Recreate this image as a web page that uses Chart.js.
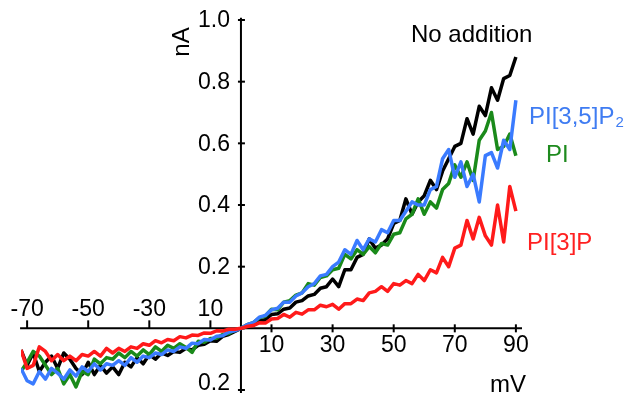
<!DOCTYPE html>
<html>
<head>
<meta charset="utf-8">
<script src="https://cdn.jsdelivr.net/npm/chart.js@4.4.0/dist/chart.umd.min.js"></script>
<style>
  html, body { margin: 0; padding: 0; background: #fff; }
  #wrap { width: 642px; height: 397px; }
</style>
</head>
<body>
<div id="wrap"><canvas id="myChart" width="642" height="397"></canvas></div>
<script>
// --- Data (mV, nA) ---
const voltages = [
  -72, -70, -68, -66, -64, -62, -60, -58, -56, -54,
  -52, -50, -48, -46, -44, -42, -40, -38, -36, -34,
  -32, -30, -28, -26, -24, -22, -20, -18, -16, -14,
  -12, -10, -8, -6, -4, -2,
  0, 2, 4, 6, 8, 10, 12, 14, 16, 18,
  20, 22, 24, 26, 28, 30, 32, 34, 36, 38,
  40, 42, 44, 46, 48, 50, 52, 54, 56, 58,
  60, 62, 64, 66, 68, 70, 72, 74, 76, 78,
  80, 82, 84, 86, 88, 90
];

const noAddition = [
  -0.07, -0.12, -0.08, -0.14, -0.11, -0.09, -0.13, -0.08, -0.10, -0.13,
  -0.15, -0.11, -0.15, -0.12, -0.145, -0.125, -0.15, -0.11, -0.125, -0.095,
  -0.115, -0.085, -0.10, -0.08, -0.088, -0.075, -0.078, -0.065, -0.07, -0.055,
  -0.052, -0.04, -0.042, -0.026, -0.02, -0.01,
  0, 0.008, 0.01, 0.024, 0.028, 0.045, 0.047, 0.062, 0.066, 0.085,
  0.09, 0.105, 0.11, 0.13, 0.135, 0.16, 0.135, 0.19, 0.19, 0.23,
  0.24, 0.29, 0.26, 0.27, 0.29, 0.34, 0.35, 0.42, 0.37, 0.41,
  0.43, 0.48, 0.45, 0.51, 0.55, 0.59, 0.60, 0.68, 0.63, 0.72,
  0.69, 0.78, 0.74, 0.81, 0.82, 0.88
];

const pi = [
  -0.14, -0.11, -0.075, -0.09, -0.12, -0.15, -0.13, -0.18, -0.15, -0.19,
  -0.14, -0.15, -0.10, -0.115, -0.095, -0.10, -0.08, -0.095, -0.075, -0.09,
  -0.07, -0.085, -0.06, -0.075, -0.055, -0.065, -0.05, -0.062, -0.078, -0.042,
  -0.045, -0.033, -0.032, -0.02, -0.017, -0.006,
  0, 0.012, 0.018, 0.034, 0.04, 0.062, 0.06, 0.085, 0.09, 0.108,
  0.115, 0.145, 0.14, 0.165, 0.17, 0.19, 0.195, 0.24, 0.225, 0.255,
  0.24, 0.265, 0.245, 0.275, 0.27, 0.305, 0.31, 0.355, 0.37, 0.42,
  0.37, 0.41, 0.39, 0.45, 0.47, 0.53, 0.49, 0.54, 0.48, 0.61,
  0.64, 0.70, 0.58, 0.59, 0.63, 0.56
];

const pi35p2 = [
  -0.13, -0.17, -0.18, -0.14, -0.165, -0.13, -0.145, -0.165, -0.135, -0.155,
  -0.125, -0.14, -0.115, -0.135, -0.115, -0.12, -0.105, -0.12, -0.095, -0.11,
  -0.09, -0.095, -0.08, -0.085, -0.07, -0.075, -0.06, -0.065, -0.048, -0.05,
  -0.036, -0.038, -0.026, -0.024, -0.012, -0.008,
  0, 0.012, 0.018, 0.036, 0.042, 0.06, 0.065, 0.085, 0.085, 0.105,
  0.115, 0.135, 0.145, 0.17, 0.175, 0.2, 0.215, 0.255, 0.24, 0.285,
  0.255, 0.29, 0.28, 0.32, 0.31, 0.35, 0.35, 0.38, 0.41, 0.40,
  0.40, 0.45, 0.46, 0.55, 0.58, 0.49, 0.54, 0.46, 0.50, 0.41,
  0.56, 0.57, 0.52, 0.61, 0.58, 0.74
];

const pi3p = [
  -0.07, -0.13, -0.12, -0.06, -0.075, -0.105, -0.085, -0.105, -0.09, -0.105,
  -0.085, -0.09, -0.075, -0.09, -0.065, -0.08, -0.065, -0.075, -0.06, -0.065,
  -0.05, -0.055, -0.04, -0.047, -0.036, -0.04, -0.027, -0.031, -0.022, -0.023,
  -0.015, -0.016, -0.008, -0.009, -0.003, -0.003,
  0, 0.006, 0.009, 0.018, 0.017, 0.03, 0.032, 0.045, 0.036, 0.052,
  0.046, 0.06, 0.06, 0.075, 0.07, 0.078, 0.062, 0.08, 0.08, 0.095,
  0.09, 0.115, 0.12, 0.135, 0.12, 0.145, 0.14, 0.155, 0.145, 0.175,
  0.155, 0.19, 0.18, 0.23, 0.2, 0.26, 0.27, 0.35, 0.29, 0.36,
  0.30, 0.27, 0.40, 0.28, 0.46, 0.38
];

// tick values and the labels shown for them
const xTicksNeg = [-70, -50, -30, -10];
const xTickLabelsNeg = ["-70", "-50", "-30", "10"];
const xTicksPos = [10, 30, 50, 70, 90];
const xTickLabelsPos = ["10", "30", "50", "70", "90"];
const yTicks = [1.0, 0.8, 0.6, 0.4, 0.2, 0, -0.2];
const yTickLabels = ["1.0", "0.8", "0.6", "0.4", "0.2", "", "0.2"];

const FONT = '"Liberation Sans", Arial, sans-serif';

function toPoints(values) {
  return voltages.map((v, i) => ({ x: v, y: values[i] }));
}

// --- Axes through the origin ---
const crossAxes = {
  id: "crossAxes",
  beforeDatasetsDraw(chart) {
    const { ctx, scales: { x, y } } = chart;
    const x0 = x.getPixelForValue(0);
    const y0 = y.getPixelForValue(0);
    ctx.save();
    ctx.strokeStyle = "#000";
    ctx.fillStyle = "#000";
    ctx.lineWidth = 2;

    // x axis line
    ctx.beginPath();
    ctx.moveTo(x.getPixelForValue(-72.3), y0);
    ctx.lineTo(x.getPixelForValue(92), y0);
    ctx.stroke();

    // y axis line
    ctx.beginPath();
    ctx.moveTo(x0, y.getPixelForValue(1.007));
    ctx.lineTo(x0, y.getPixelForValue(-0.21));
    ctx.stroke();

    ctx.font = "23px " + FONT;
    ctx.textAlign = "center";
    ctx.textBaseline = "middle";

    // negative side: ticks and labels above the axis
    xTicksNeg.forEach((t, i) => {
      const px = x.getPixelForValue(t);
      ctx.beginPath();
      ctx.moveTo(px, y0);
      ctx.lineTo(px, y0 - 8);
      ctx.stroke();
      ctx.fillText(xTickLabelsNeg[i], px, y0 - 19);
    });

    // positive side: ticks and labels below the axis
    xTicksPos.forEach((t, i) => {
      const px = x.getPixelForValue(t);
      ctx.beginPath();
      ctx.moveTo(px, y0 - 4);
      ctx.lineTo(px, y0 + 4);
      ctx.stroke();
      ctx.fillText(xTickLabelsPos[i], px, y0 + 17);
    });

    // y ticks
    ctx.textAlign = "right";
    yTicks.forEach((t, i) => {
      const py = y.getPixelForValue(t);
      ctx.beginPath();
      ctx.moveTo(x0 - 3, py);
      ctx.lineTo(x0 + 4, py);
      ctx.stroke();
      if (yTickLabels[i]) {
        ctx.fillText(yTickLabels[i], x0 - 11, Math.min(py + 1, 384));
      }
    });

    // axis titles
    ctx.font = "24px " + FONT;
    ctx.textAlign = "center";
    ctx.fillText("mV", 508, 385);
    ctx.save();
    ctx.translate(182, 42);
    ctx.rotate(-Math.PI / 2);
    ctx.fillText("nA", 0, 0);
    ctx.restore();

    ctx.restore();
  },
  afterDatasetsDraw(chart) {
    const { ctx } = chart;
    ctx.save();
    ctx.font = "24px " + FONT;
    ctx.textAlign = "left";
    ctx.textBaseline = "middle";

    ctx.fillStyle = "#000";
    ctx.fillText("No addition", 411, 35);

    ctx.fillStyle = "#3f7cf2";
    ctx.fillText("PI[3,5]P", 529, 117);
    const w = ctx.measureText("PI[3,5]P").width;
    ctx.font = "15px " + FONT;
    ctx.fillText("2", 529 + w + 1, 123);

    ctx.font = "24px " + FONT;
    ctx.fillStyle = "#1e8a1e";
    ctx.fillText("PI", 546, 155);

    ctx.fillStyle = "#ff2020";
    ctx.fillText("PI[3]P", 527, 243);
    ctx.restore();
  }
};

// --- Chart ---
const ctx = document.getElementById("myChart");
const lineStyle = { borderWidth: 3.5, pointRadius: 0, tension: 0, borderJoinStyle: "round", fill: false };

new Chart(ctx, {
  type: "line",
  data: {
    datasets: [
      { label: "PI[3]P", data: toPoints(pi3p), borderColor: "#ff1a1a", ...lineStyle },
      { label: "PI[3,5]P2", data: toPoints(pi35p2), borderColor: "#3a7bff", ...lineStyle },
      { label: "PI", data: toPoints(pi), borderColor: "#1a8a1a", ...lineStyle },
      { label: "No addition", data: toPoints(noAddition), borderColor: "#000000", ...lineStyle }
    ]
  },
  options: {
    responsive: false,
    animation: false,
    devicePixelRatio: 1,
    layout: { padding: { left: 21, right: 120, top: 20, bottom: 7 } },
    plugins: { legend: { display: false }, tooltip: { enabled: false } },
    scales: {
      x: { type: "linear", min: -72, max: 92, display: false },
      y: { min: -0.2, max: 1.0, display: false }
    }
  },
  plugins: [crossAxes]
});
</script>
</body>
</html>
